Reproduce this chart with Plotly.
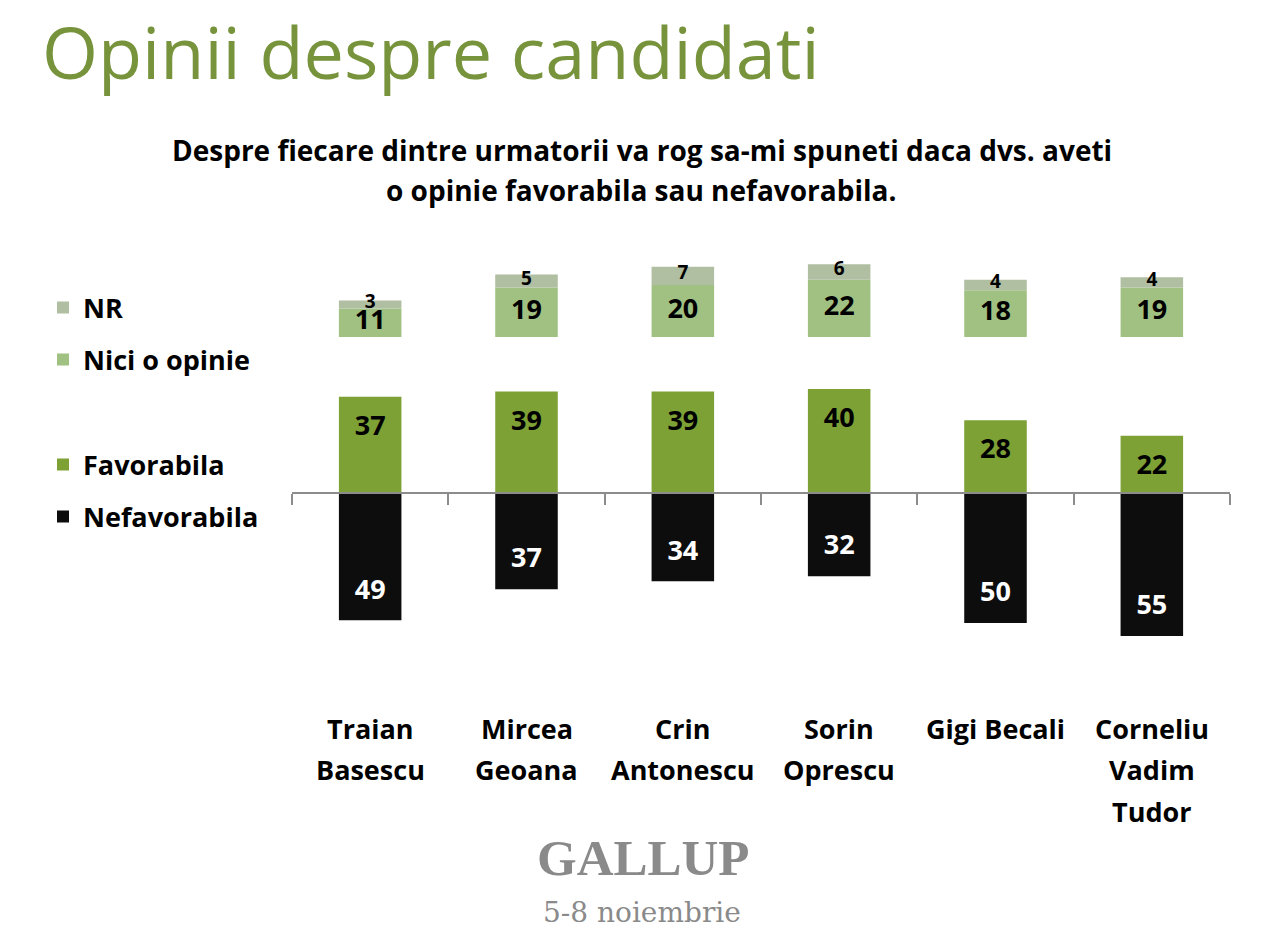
import plotly.graph_objects as go

# date
candidati = ["Traian Basescu", "Mircea Geoana", "Crin Antonescu",
             "Sorin Oprescu", "Gigi Becali", "Corneliu Vadim Tudor"]
etichete = [["Traian", "Basescu"], ["Mircea", "Geoana"], ["Crin", "Antonescu"],
            ["Sorin", "Oprescu"], ["Gigi Becali"], ["Corneliu", "Vadim", "Tudor"]]
nefavorabila = [49, 37, 34, 32, 50, 55]
favorabila = [37, 39, 39, 40, 28, 22]
nici_o_opinie = [11, 19, 20, 22, 18, 19]
nr = [3, 5, 7, 6, 4, 4]
baza_nici = 60  # blocul de sus porneste de la 60

FONT = "Open Sans"
C_FAV = "#7da135"
C_NICI = "#a0c182"
C_NR = "#b0bea2"
C_NEF = "#0d0d0d"

# pozitii in pixeli ai ecranului -> coordonate paper (zona graficului 292..1230, 200..800)
def fx(px):
    return (px - 292) / 938

def fy(py):
    return (800 - py) / 600

baza_nr = [baza_nici + n for n in nici_o_opinie]

fig = go.Figure()

fig.add_trace(go.Bar(x=candidati, y=[-v for v in nefavorabila], name="Nefavorabila",
                     marker_color=C_NEF, width=0.4, legend="legend4"))
fig.add_trace(go.Bar(x=candidati, y=favorabila, name="Favorabila",
                     marker_color=C_FAV, width=0.4, legend="legend3"))
fig.add_trace(go.Bar(x=candidati, y=nici_o_opinie, base=baza_nici, name="Nici o opinie",
                     marker_color=C_NICI, width=0.4, legend="legend2"))
fig.add_trace(go.Bar(x=candidati, y=nr, base=baza_nr, name="NR",
                     marker_color=C_NR, width=0.4, legend="legend"))

for trace in fig.data:
    trace.marker.line.width = 0

# etichete valori
num_font = dict(family=FONT, size=27, color="black", weight="bold")
fig.add_trace(go.Scatter(x=candidati, y=[f - 12 for f in favorabila], mode="text",
                         text=[str(v) for v in favorabila], showlegend=False,
                         textfont=num_font))
fig.add_trace(go.Scatter(x=candidati, y=[-v + 11 for v in nefavorabila], mode="text",
                         text=[str(v) for v in nefavorabila], showlegend=False,
                         textfont=dict(num_font, color="white")))
fig.add_trace(go.Scatter(x=candidati, y=[baza_nici + n / 2 for n in nici_o_opinie], mode="text",
                         text=[str(v) for v in nici_o_opinie], showlegend=False,
                         textfont=num_font))
fig.add_trace(go.Scatter(x=candidati, y=[b + n / 2 + 0.5 for b, n in zip(baza_nr, nr)], mode="text",
                         text=[str(v) for v in nr], showlegend=False,
                         textfont=dict(num_font, size=19)))

y_min, y_max = -118.1, 112.7
pos_axa = -y_min / (y_max - y_min)

leg_font = dict(family=FONT, size=27, color="black", weight="bold")
def leg(py):
    return dict(x=fx(43), y=fy(py), xanchor="left", yanchor="middle", font=leg_font,
                bgcolor="rgba(0,0,0,0)", itemclick=False)

# pagina are o margine de 8px, de aceea l/t sunt cu 8 mai mici
fig.update_layout(
    width=1286, height=934,
    margin=dict(l=284, r=64, t=192, b=142),
    paper_bgcolor="white", plot_bgcolor="white",
    barmode="overlay",
    showlegend=True,
    legend=leg(308),
    legend2=leg(360),
    legend3=leg(465),
    legend4=leg(517),
    xaxis=dict(type="category", showticklabels=False, showgrid=False,
               showline=True, linecolor="#8c8c8c", linewidth=2,
               ticks="outside", tickson="boundaries", ticklen=11, tickcolor="#8c8c8c",
               tickwidth=1.5, anchor="free", position=pos_axa),
    yaxis=dict(range=[y_min, y_max], visible=False, fixedrange=True),
    annotations=[
        dict(text="Opinii despre candidati", xref="paper", yref="paper",
             x=fx(40), y=fy(0), xanchor="left", yanchor="top",
             showarrow=False, font=dict(family=FONT, size=72, color="#77933c")),
        dict(text="Despre fiecare dintre urmatorii va rog sa-mi spuneti daca dvs. aveti",
             xref="paper", yref="paper", x=fx(642), y=fy(150),
             xanchor="center", yanchor="middle", showarrow=False,
             font=dict(family=FONT, size=28, color="black", weight="bold")),
        dict(text="o opinie favorabila sau nefavorabila.",
             xref="paper", yref="paper", x=fx(641), y=fy(190),
             xanchor="center", yanchor="middle", showarrow=False,
             font=dict(family=FONT, size=28, color="black", weight="bold")),
        dict(text="GALLUP", xref="paper", yref="paper", x=fx(643),
             y=fy(858), xanchor="center", yanchor="middle", showarrow=False,
             font=dict(family="Liberation Serif", size=51, color="#8a8a8a", weight="bold")),
        dict(text="5-8 noiembrie", xref="paper", yref="paper", x=fx(642),
             y=fy(912), xanchor="center", yanchor="middle", showarrow=False,
             font=dict(family="DejaVu Serif", size=28, color="#8a8a8a")),
    ],
)

for cand, linii in zip(candidati, etichete):
    for i, linie in enumerate(linii):
        fig.add_annotation(text=linie, x=cand, xref="x", yref="paper", y=fy(728 + 41.5 * i),
                           xanchor="center", yanchor="middle", showarrow=False,
                           font=dict(family=FONT, size=27, color="black", weight="bold"))

fig.write_html("out.html")
